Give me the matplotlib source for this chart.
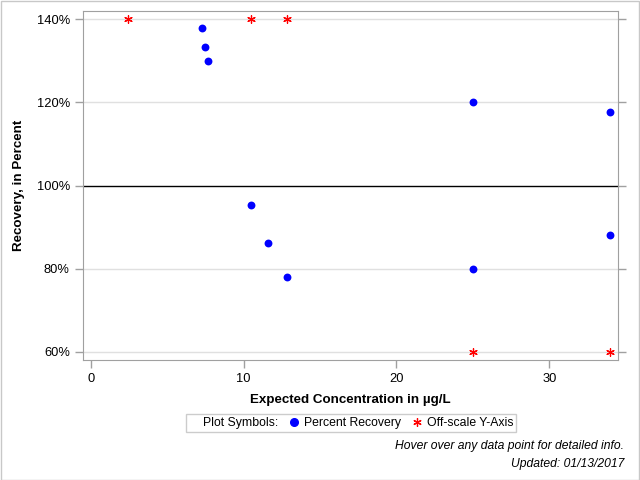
import matplotlib
matplotlib.use("Agg")
import matplotlib.pyplot as plt
from matplotlib.lines import Line2D
from matplotlib.patches import Rectangle
from matplotlib.ticker import FuncFormatter

plt.rcParams["font.family"] = ["Liberation Sans", "DejaVu Sans"]

# Percent recovery points (expected concentration, recovery %)
rec_x = [7.27, 7.47, 7.66, 10.48, 11.6, 12.84, 25.0, 25.0, 34.0, 34.0]
rec_y = [137.8, 133.3, 129.9, 95.3, 86.2, 78.0, 120.0, 80.0, 117.6, 88.1]

# Off-scale points, drawn at the axis limit
off_x = [2.42, 10.48, 12.84, 25.0, 34.0]
off_y = [140, 140, 140, 60, 60]

fig = plt.figure(figsize=(6.4, 4.8), dpi=100)
ax = fig.add_axes([0.1297, 0.25, 0.836, 0.727])

for v in [60, 80, 120, 140]:
    ax.axhline(v, color="#e0e0e0", lw=1, zorder=0)
ax.axhline(100, color="black", lw=1, zorder=1)

ax.scatter(rec_x, rec_y, s=32, color="blue", zorder=3, linewidths=0)
ax.scatter(off_x, off_y, s=30, color="red", marker=(6, 2, 0), linewidths=0.9, zorder=3)

ax.set_xlim(-0.5, 34.5)
ax.set_ylim(58, 142)
ax.set_xticks([0, 10, 20, 30])
ax.set_yticks([60, 80, 100, 120, 140])
ax.yaxis.set_major_formatter(FuncFormatter(lambda v, p: f"{v:.0f}%"))
ax.tick_params(axis="both", labelsize=9.3, color="#a0a0a0", length=6, width=1)
ax.tick_params(axis="y", right=True)
for s in ax.spines.values():
    s.set_color("#a0a0a0")

ax.set_xlabel("Expected Concentration in µg/L", fontsize=9.6, fontweight="bold", labelpad=6)
ax.set_ylabel("Recovery, in Percent", fontsize=9.6, fontweight="bold", labelpad=8)

handles = [
    Line2D([], [], linestyle="none", marker=None),
    Line2D([], [], linestyle="none", marker="o", color="blue", markersize=5.5),
    Line2D([], [], linestyle="none", marker=(6, 2, 0), color="red", markersize=6, markeredgewidth=0.9),
]
labels = ["Plot Symbols:", "Percent Recovery", "Off-scale Y-Axis"]
leg = fig.legend(handles, labels, ncol=3, loc="center", bbox_to_anchor=(351 / 640, 1 - 423 / 480),
                 fontsize=8.8, frameon=True, fancybox=False, edgecolor="#c0c0c0",
                 handlelength=0.8, handletextpad=0.4, columnspacing=0.9,
                 borderpad=0.25)
leg.get_frame().set_linewidth(1)

fig.text(624 / 640, 1 - 446 / 480, "Hover over any data point for detailed info.",
         ha="right", va="center", fontsize=8.7, style="italic")
fig.text(624 / 640, 1 - 464 / 480, "Updated: 01/13/2017",
         ha="right", va="center", fontsize=8.7, style="italic")

fig.add_artist(Rectangle((0.001, 0.001), 0.997, 0.997, transform=fig.transFigure,
                         fill=False, edgecolor="#c8c8c8", lw=1))

fig.savefig("out.png", dpi=100)
